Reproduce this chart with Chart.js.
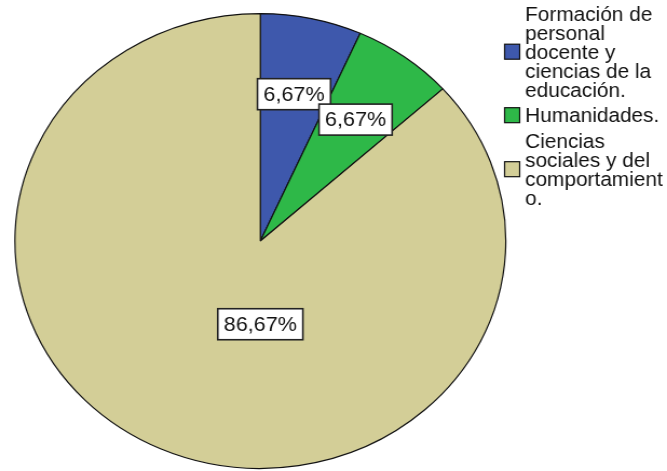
<!DOCTYPE html>
<html>
<head>
<meta charset="utf-8">
<script src="https://cdn.jsdelivr.net/npm/chart.js@4/dist/chart.umd.min.js"></script>
<style>
  html, body { margin: 0; padding: 0; background: #fff; overflow: hidden; }
  #wrap { width: 618px; height: 471px; transform: scaleX(1.0793); transform-origin: 0 0; }
</style>
</head>
<body>
<div id="wrap"><canvas id="pie" width="618" height="471"></canvas></div>
<script>
var categorias = [
  "Formación de personal docente y ciencias de la educación.",
  "Humanidades.",
  "Ciencias sociales y del comportamiento."
];
// lineas del texto de la leyenda, tal como se cortan en la imagen
var lineasLeyenda = [
  ["Formación de", "personal", "docente y", "ciencias de la", "educación."],
  ["Humanidades."],
  ["Ciencias", "sociales y del", "comportamient", "o."]
];
var porcentajes = [6.67, 6.67, 86.67];
var colores = ["#3E58AC", "#2EB848", "#D3CE97"];

// donde va cada etiqueta: fraccion del radio y angulo (null = mitad del sector)
var etiqRadio = [0.66, 0.66, 0.366];
var etiqAngulo = [null, null, 180];

var FONT = '20px "Liberation Sans", Arial, sans-serif';
var FONT_LEY = '19.3px "Liberation Sans", Arial, sans-serif';

function fmt(v) {
  return v.toFixed(2).replace('.', ',') + '%';
}

var etiquetas = {
  id: 'etiquetas',
  afterDatasetsDraw: function(chart) {
    var ctx = chart.ctx;
    var arcs = chart.getDatasetMeta(0).data;
    ctx.save();
    ctx.font = FONT;
    ctx.textAlign = 'center';
    ctx.textBaseline = 'middle';
    for (var i = 0; i < arcs.length; i++) {
      var a = arcs[i];
      var ang;
      if (etiqAngulo[i] === null) {
        ang = (a.startAngle + a.endAngle) / 2;
      } else {
        ang = (etiqAngulo[i] - 90) * Math.PI / 180;
      }
      var r = a.outerRadius * etiqRadio[i];
      var x = a.x + Math.cos(ang) * r;
      var y = a.y + Math.sin(ang) * r;
      var txt = fmt(porcentajes[i]);
      var w = ctx.measureText(txt).width + 11;
      var h = 31;
      ctx.fillStyle = '#fff';
      ctx.fillRect(x - w / 2, y - h / 2, w, h);
      ctx.strokeStyle = '#222';
      ctx.lineWidth = 1.6;
      ctx.strokeRect(x - w / 2, y - h / 2, w, h);
      ctx.fillStyle = '#111';
      ctx.fillText(txt, x, y + 1);
    }
    ctx.restore();
  }
};

var leyenda = {
  id: 'leyenda',
  afterDraw: function(chart) {
    var ctx = chart.ctx;
    var lh = 19, gap = 6.5;
    var xCaja = 467.5, xTexto = 486.5;
    var y = 20.7; // primera linea base
    ctx.save();
    ctx.font = FONT_LEY;
    ctx.textAlign = 'left';
    ctx.textBaseline = 'alphabetic';
    for (var i = 0; i < lineasLeyenda.length; i++) {
      var lin = lineasLeyenda[i];
      var y0 = y;
      for (var j = 0; j < lin.length; j++) {
        ctx.fillStyle = '#111';
        ctx.fillText(lin[j], xTexto, y + j * lh);
      }
      var centro = y0 - 7 + (lin.length - 1) * lh / 2;
      ctx.fillStyle = colores[i];
      ctx.fillRect(xCaja, centro - 7.5, 14, 15);
      ctx.strokeStyle = '#111';
      ctx.lineWidth = 1.2;
      ctx.strokeRect(xCaja, centro - 7.5, 14, 15);
      y += lin.length * lh + gap;
    }
    ctx.restore();
  }
};

new Chart(document.getElementById('pie'), {
  type: 'pie',
  data: {
    labels: categorias,
    datasets: [{
      data: porcentajes,
      backgroundColor: colores,
      borderColor: '#111',
      borderWidth: 1.2
    }]
  },
  options: {
    responsive: false,
    animation: false,
    devicePixelRatio: 1,
    layout: { padding: { top: 13, bottom: 2, left: 13.2, right: 148.8 } },
    plugins: {
      legend: { display: false },
      tooltip: { enabled: false }
    }
  },
  plugins: [etiquetas, leyenda]
});
</script>
</body>
</html>
